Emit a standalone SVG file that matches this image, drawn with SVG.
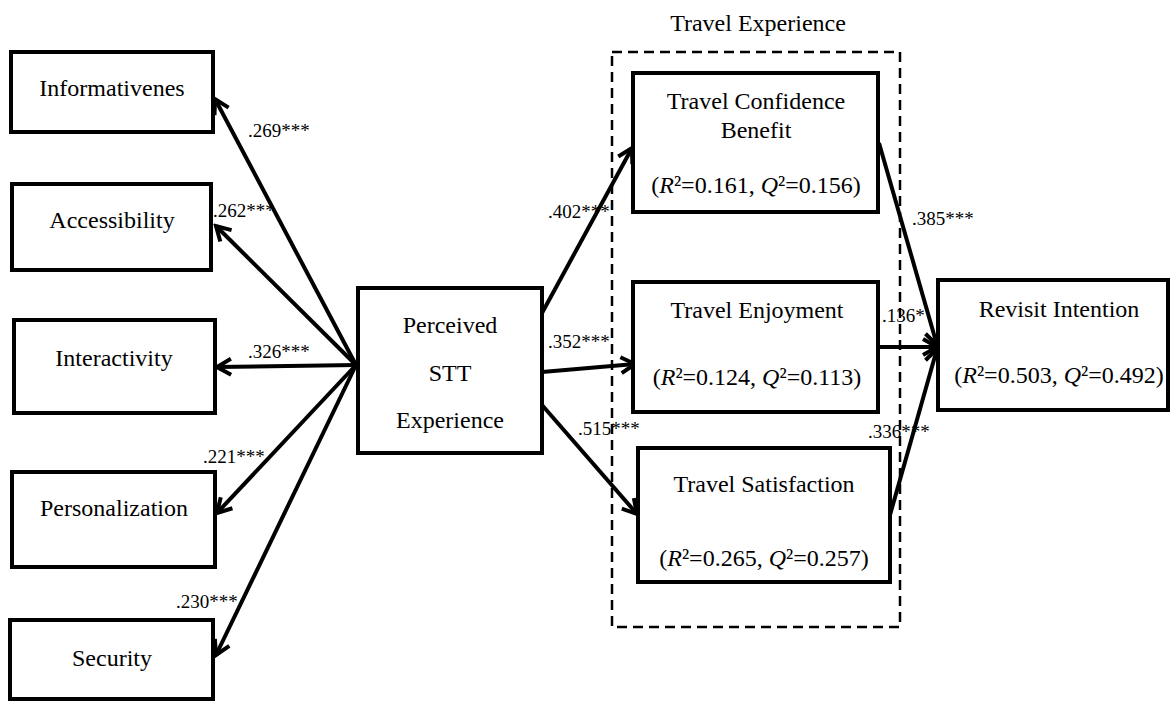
<svg xmlns="http://www.w3.org/2000/svg" width="1172" height="702" viewBox="0 0 1172 702">
<defs>
<style>
.box{fill:#fff;stroke:#000;stroke-width:4}
.t{font-family:"Liberation Serif","Times New Roman",serif;font-size:24px;fill:#000;text-anchor:middle}
.c{font-family:"Liberation Serif","Times New Roman",serif;font-size:19px;fill:#000}
.e{stroke:#000;stroke-width:4;fill:none;marker-end:url(#ah)}
</style>
<marker id="ah" viewBox="0 0 20 20" markerUnits="userSpaceOnUse" markerWidth="20" markerHeight="20" refX="17" refY="10" orient="auto">
<path d="M3,2 L17,10 L3,18" fill="none" stroke="#000" stroke-width="4" stroke-linejoin="miter"/>
</marker>
</defs>
<rect width="1172" height="702" fill="#fff"/>
<g id="group-travel-experience">
<rect x="612" y="52" width="288" height="575" fill="none" stroke="#000" stroke-width="2.5" stroke-dasharray="10 6"/>
<text class="t" x="758" y="31">Travel Experience</text>
</g>
<g id="connectors">
<line class="e" x1="356" y1="365" x2="215" y2="99"/>
<line class="e" x1="356" y1="365" x2="216" y2="226"/>
<line class="e" x1="356" y1="365" x2="217" y2="367"/>
<line class="e" x1="356" y1="365" x2="217" y2="513"/>
<line class="e" x1="356" y1="365" x2="216" y2="655"/>
<line class="e" x1="542" y1="313" x2="632" y2="148"/>
<line class="e" x1="542" y1="372" x2="635" y2="364"/>
<line class="e" x1="542" y1="405" x2="637" y2="514"/>
<line class="e" x1="879" y1="143" x2="937" y2="345"/>
<line class="e" x1="879" y1="347" x2="937" y2="347"/>
<line class="e" x1="890" y1="515" x2="937" y2="349"/>
<text class="c" x="248" y="137">.269***</text>
<text class="c" x="213" y="217">.262***</text>
<text class="c" x="248" y="358">.326***</text>
<text class="c" x="203" y="463">.221***</text>
<text class="c" x="176" y="608">.230***</text>
<text class="c" x="548" y="218">.402***</text>
<text class="c" x="548" y="348">.352***</text>
<text class="c" x="578" y="435">.515***</text>
<text class="c" x="912" y="225">.385***</text>
<text class="c" x="882" y="322">.136*</text>
<text class="c" x="868" y="438">.336***</text>
</g>
<g id="informativenes">
<rect class="box" x="11" y="52" width="202" height="80"/>
<text class="t" x="112" y="96">Informativenes</text>
</g>
<g id="accessibility">
<rect class="box" x="12" y="184" width="199" height="86"/>
<text class="t" x="112" y="228">Accessibility</text>
</g>
<g id="interactivity">
<rect class="box" x="14" y="320" width="201" height="93"/>
<text class="t" x="114" y="366">Interactivity</text>
</g>
<g id="personalization">
<rect class="box" x="12" y="472" width="203" height="95"/>
<text class="t" x="114" y="516">Personalization</text>
</g>
<g id="security">
<rect class="box" x="10" y="620" width="203" height="79"/>
<text class="t" x="112" y="666">Security</text>
</g>
<g id="perceived-stt-experience">
<rect class="box" x="358" y="288" width="184" height="165"/>
<text class="t" x="450" y="333">Perceived</text>
<text class="t" x="450" y="381">STT</text>
<text class="t" x="450" y="428">Experience</text>
</g>
<g id="travel-confidence-benefit">
<rect class="box" x="633" y="73" width="245" height="139"/>
<text class="t" x="756" y="109">Travel Confidence</text>
<text class="t" x="756" y="138">Benefit</text>
<text class="t" x="756" y="193">(<tspan font-style="italic">R</tspan>²=0.161, <tspan font-style="italic">Q</tspan>²=0.156)</text>
</g>
<g id="travel-enjoyment">
<rect class="box" x="633" y="282" width="245" height="130"/>
<text class="t" x="757" y="318">Travel Enjoyment</text>
<text class="t" x="757" y="385">(<tspan font-style="italic">R</tspan>²=0.124, <tspan font-style="italic">Q</tspan>²=0.113)</text>
</g>
<g id="travel-satisfaction">
<rect class="box" x="638" y="448" width="252" height="134"/>
<text class="t" x="764" y="492">Travel Satisfaction</text>
<text class="t" x="764" y="566">(<tspan font-style="italic">R</tspan>²=0.265, <tspan font-style="italic">Q</tspan>²=0.257)</text>
</g>
<g id="revisit-intention">
<rect class="box" x="938" y="280" width="230" height="130"/>
<text class="t" x="1059" y="317">Revisit Intention</text>
<text class="t" x="1059" y="383">(<tspan font-style="italic">R</tspan>²=0.503, <tspan font-style="italic">Q</tspan>²=0.492)</text>
</g>
</svg>
